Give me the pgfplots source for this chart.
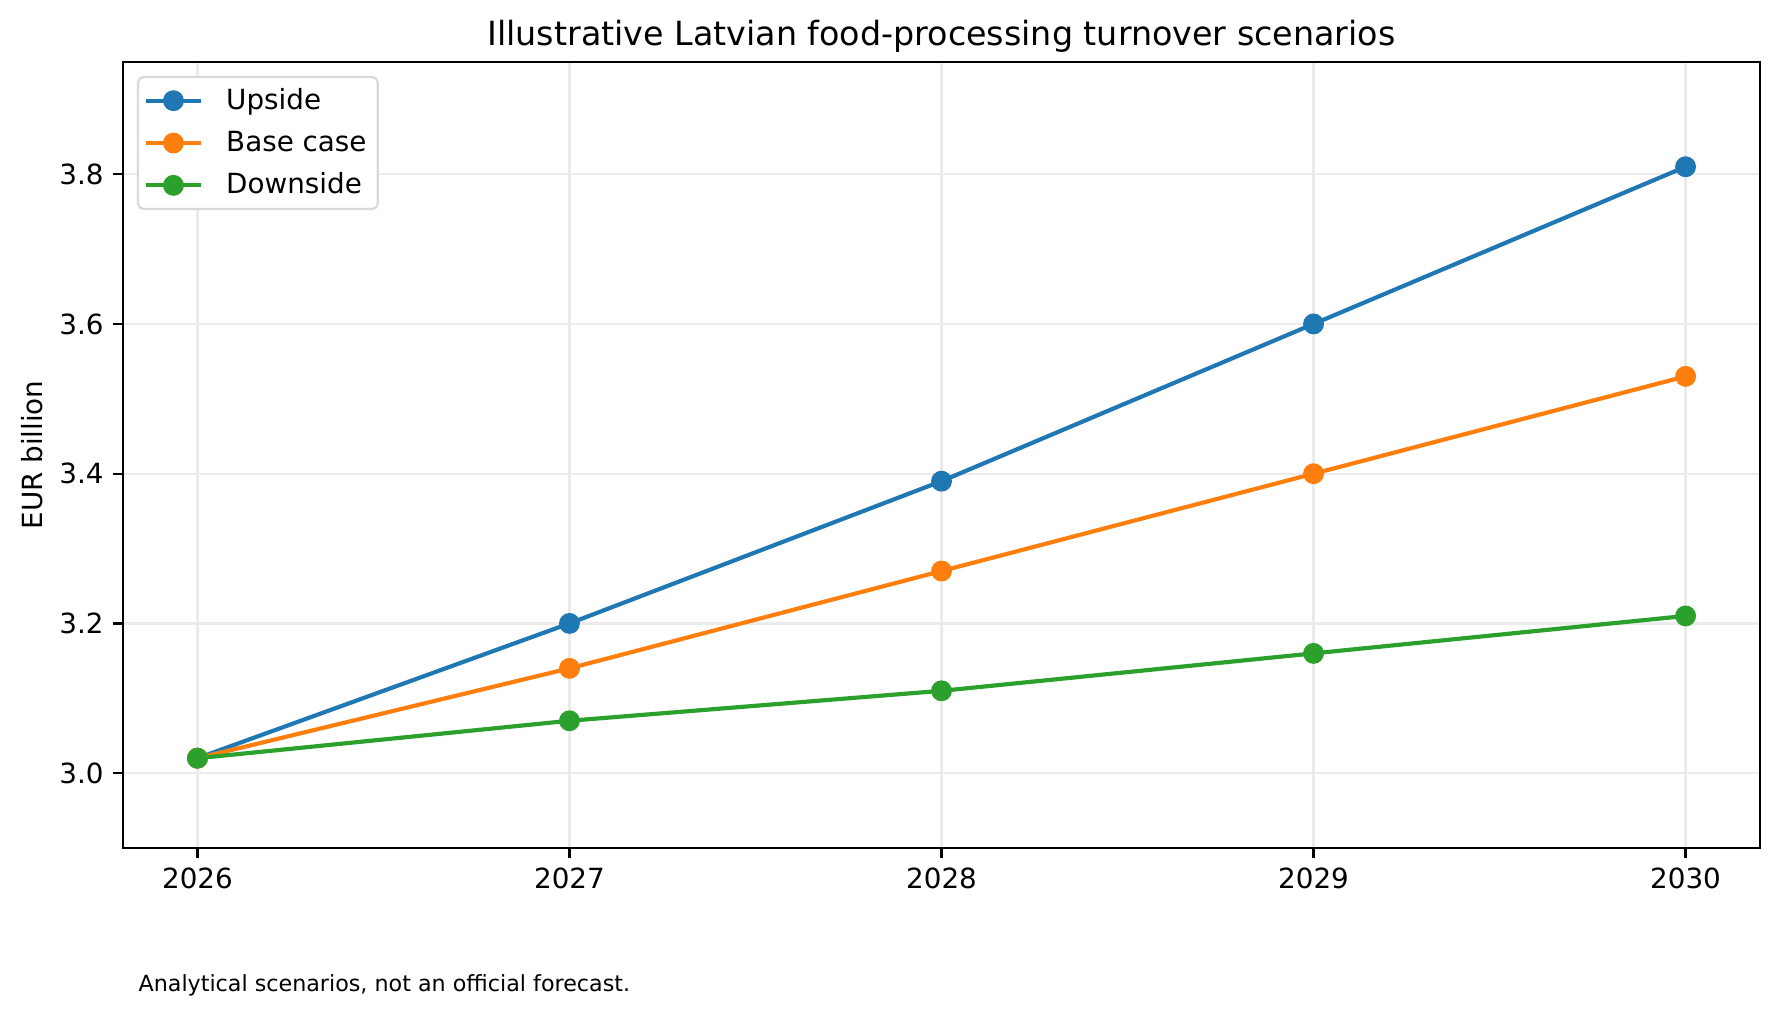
\documentclass[border=0pt]{standalone}
\usepackage{fontspec}
\setmainfont{DejaVu Sans}
\usepackage{pgfplots}
\pgfplotsset{compat=1.18}
\definecolor{tabblue}{HTML}{1F77B4}
\definecolor{taborange}{HTML}{FF7F0E}
\definecolor{tabgreen}{HTML}{2CA02C}
\begin{document}
\begin{tikzpicture}
\useasboundingbox (-44.3pt,-60.1pt) rectangle (596.5pt,305.3pt);
\begin{axis}[
  at={(0,0)}, anchor=south west,
  scale only axis, width=589.3pt, height=283pt,
  xmin=2025.8, xmax=2030.2, ymin=2.9, ymax=3.95,
  xtick={2026,2027,2028,2029,2030},
  xticklabels={2026,2027,2028,2029,2030},
  ytick={3.0,3.2,3.4,3.6,3.8},
  yticklabel style={/pgf/number format/.cd,fixed,fixed zerofill,precision=1},
  /pgf/number format/assume math mode=true,
  tick label style={font=\fontsize{10}{12}\selectfont},
  tick align=outside, tick pos=left,
  major tick length=3.5pt,
  every tick/.style={black, line width=0.8pt},
  axis line style={line width=0.8pt},
  grid=major,
  major grid style={line width=0.8pt, color=black!8},
  ylabel={EUR billion},
  ylabel style={font=\fontsize{10}{12}\selectfont, at={(axis description cs:-0.0557,0.5)}, anchor=center},
  title={Illustrative Latvian food-processing turnover scenarios},
  title style={font=\fontsize{12}{14}\selectfont, at={(axis description cs:0.5,1)}, yshift=3.4pt, anchor=center},
  legend style={at={(axis description cs:0,1)}, anchor=north west, xshift=5pt, yshift=-5pt,
    draw=black!15, line width=0.8pt, rounded corners=2pt, font=\fontsize{10}{12}\selectfont,
    inner xsep=2pt, inner ysep=2pt, row sep=2.3pt},
  legend cell align=left,
  legend image code/.code={\draw[mark repeat=2,mark phase=2] plot coordinates {(0pt,0pt) (10pt,0pt) (20pt,0pt)};
    \path[draw=none] (0pt,0pt) -- (27pt,0pt);},
  every axis plot/.append style={line width=1.5pt, mark=*, mark size=3pt},
]
\addplot[color=tabblue, mark options={fill=tabblue, draw=tabblue}] coordinates {(2026,3.02) (2027,3.20) (2028,3.39) (2029,3.60) (2030,3.81)};
\addlegendentry{Upside}
\addplot[color=taborange, mark options={fill=taborange, draw=taborange}] coordinates {(2026,3.02) (2027,3.14) (2028,3.27) (2029,3.40) (2030,3.53)};
\addlegendentry{Base case}
\addplot[color=tabgreen, mark options={fill=tabgreen, draw=tabgreen}] coordinates {(2026,3.02) (2027,3.07) (2028,3.11) (2029,3.16) (2030,3.21)};
\addlegendentry{Downside}
\end{axis}
\node[anchor=west, font=\fontsize{8}{10}\selectfont, inner sep=0pt] at (5.4pt,-49.3pt) {Analytical scenarios, not an official forecast.};
\end{tikzpicture}
\end{document}
